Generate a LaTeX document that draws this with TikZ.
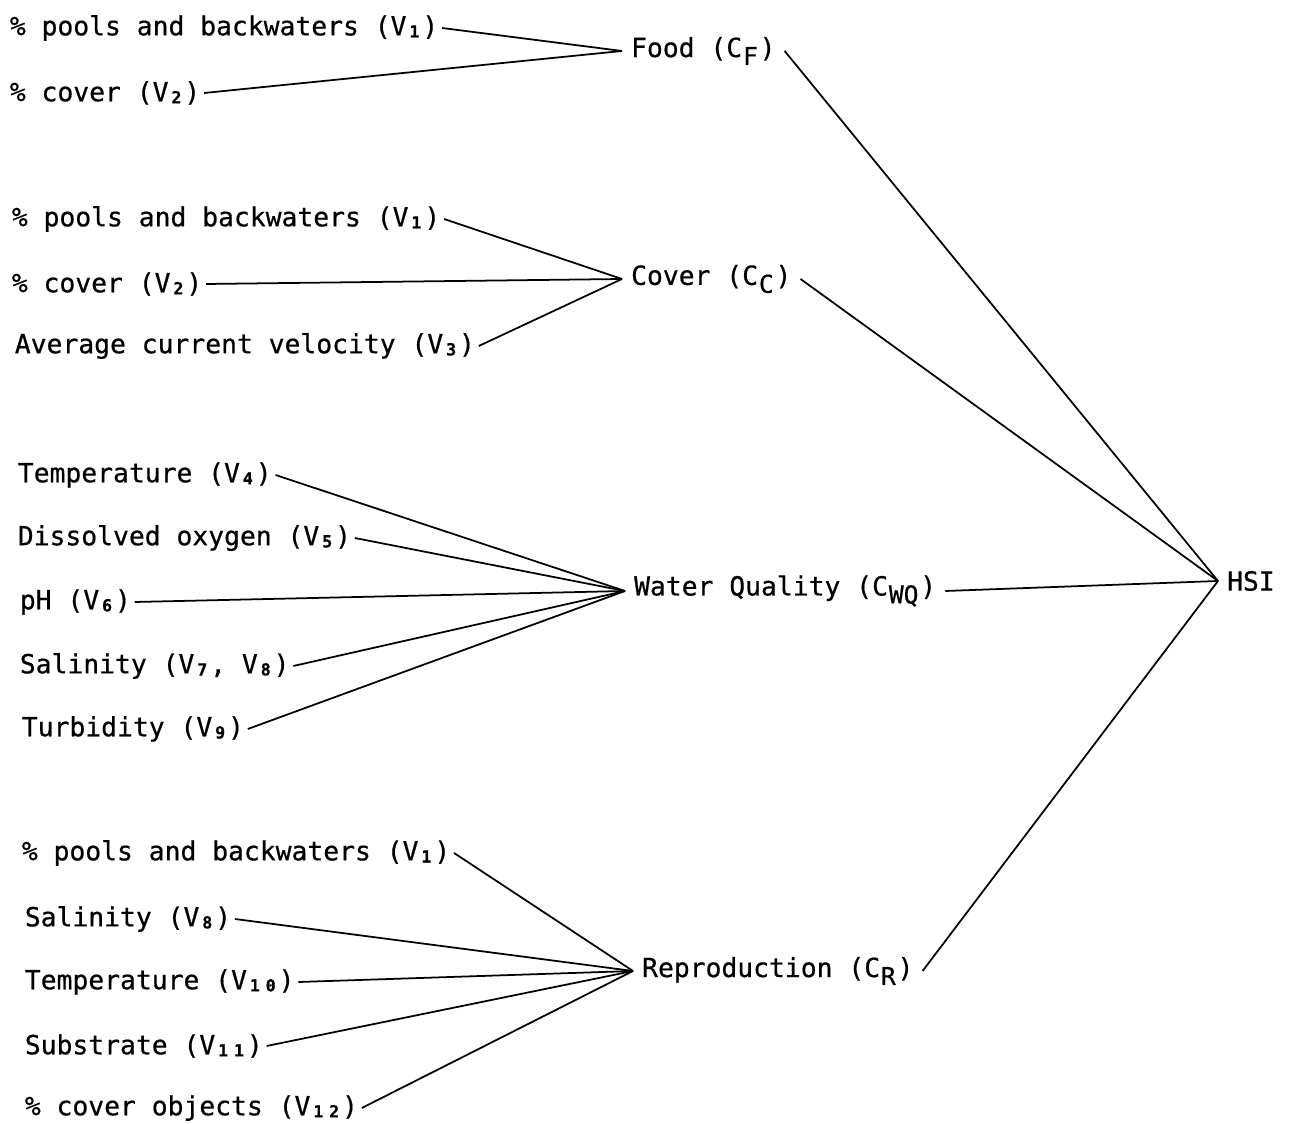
\documentclass[tikz,border=0pt]{standalone}
\usepackage{fontspec}
\newfontfamily\typefont{DejaVu Sans Mono}[FakeBold=0.6]
\usepackage{tikz}
\usetikzlibrary{positioning}
\newcommand{\vsub}[1]{\makebox[9pt]{\raisebox{-0.15ex}{\fontsize{9.5}{9.5}\selectfont\bfseries #1}}}
\newcommand{\csub}[1]{\hspace{0.5pt}\raisebox{-0.55ex}{\fontsize{14}{14}\selectfont #1}\hspace{1pt}}
\tikzset{
  varlabel/.style={anchor=west, inner sep=2pt, font=\fontsize{15}{18}\selectfont\typefont},
  complabel/.style={anchor=west, inner sep=5pt, font=\fontsize{15}{18}\selectfont\typefont},
  link/.style={draw=black, line width=1pt},
}
\begin{document}
\begin{tikzpicture}[x=0.02cm, y=-0.02cm]
  \useasboundingbox (0,0) rectangle (1289,1124);

  % --- Food ---
  \node[varlabel] (vf1) at (6,28) {\% pools and backwaters (V\vsub{1})};
  \node[varlabel] (vf2) at (6,93) {\% cover (V\vsub{2})};
  \node[complabel] (food) at (622,51) {Food (C\csub{F})};

  % --- Cover ---
  \node[varlabel] (vc1) at (8,219) {\% pools and backwaters (V\vsub{1})};
  \node[varlabel] (vc2) at (8,284) {\% cover (V\vsub{2})};
  \node[varlabel] (vc3) at (11,346) {Average current velocity (V\vsub{3})};
  \node[complabel] (cover) at (622,279) {Cover (C\csub{C})};

  % --- Water quality ---
  \node[varlabel] (vw1) at (14,475) {Temperature (V\vsub{4})};
  \node[varlabel] (vw2) at (14,538) {Dissolved oxygen (V\vsub{5})};
  \node[varlabel] (vw3) at (16,602) {pH (V\vsub{6})};
  \node[varlabel] (vw4) at (16,666) {Salinity (V\vsub{7}, V\vsub{8})};
  \node[varlabel] (vw5) at (18,729) {Turbidity (V\vsub{9})};
  \node[complabel] (wq) at (625,591) {Water Quality (C\csub{WQ})};

  % --- Reproduction ---
  \node[varlabel] (vr1) at (18,853) {\% pools and backwaters (V\vsub{1})};
  \node[varlabel] (vr2) at (21,919) {Salinity (V\vsub{8})};
  \node[varlabel] (vr3) at (21,982) {Temperature (V\vsub{1}\vsub{0})};
  \node[varlabel] (vr4) at (21,1046) {Substrate (V\vsub{1}\vsub{1})};
  \node[varlabel] (vr5) at (21,1108) {\% cover objects (V\vsub{1}\vsub{2})};
  \node[complabel] (repro) at (633,971) {Reproduction (C\csub{R})};

  % --- HSI ---
  \node[complabel] (hsi) at (1218,581) {HSI};

  % --- Links ---
  \foreach \v in {vf1,vf2} \draw[link] (\v.east) -- (food.west);
  \foreach \v in {vc1,vc2,vc3} \draw[link] (\v.east) -- (cover.west);
  \foreach \v in {vw1,vw2,vw3,vw4,vw5} \draw[link] (\v.east) -- (wq.west);
  \foreach \v in {vr1,vr2,vr3,vr4,vr5} \draw[link] (\v.east) -- (repro.west);
  \foreach \c in {food,cover,wq,repro} \draw[link] (\c.east) -- (hsi.west);
\end{tikzpicture}
\end{document}
